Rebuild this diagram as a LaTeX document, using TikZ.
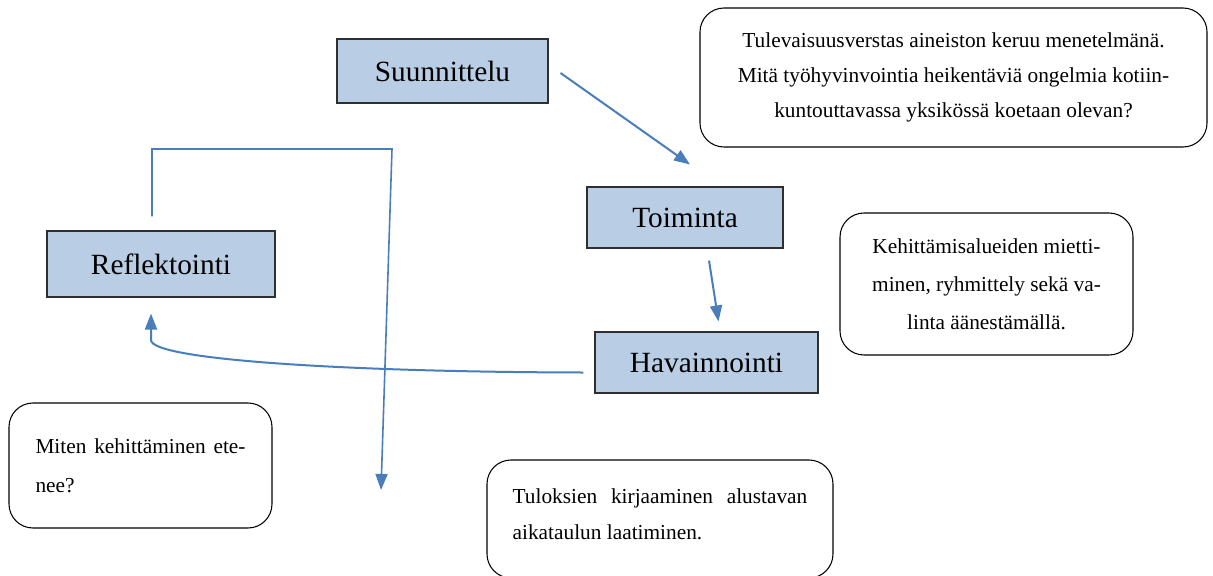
\documentclass[tikz,border=0pt]{standalone}
\usepackage{fontspec}
\setmainfont{Liberation Serif}
\usetikzlibrary{arrows.meta,calc}
\definecolor{boxfill}{HTML}{B9CDE5}
\definecolor{boxline}{HTML}{2F2F2F}
\definecolor{arrblue}{HTML}{4A7EBB}
\tikzset{
  stagebox/.style={draw=boxline, line width=0.8pt, fill=boxfill, inner sep=0pt,
    font=\fontsize{22}{26}\selectfont},
  notebox/.style={draw=black, line width=0.8pt, rounded corners=18pt, inner sep=0pt,
    font=\fontsize{16}{26}\selectfont},
  arr/.style={draw=arrblue, line width=1.5pt, -{Triangle[length=12pt,width=9pt]}},
  loopline/.style={draw=arrblue, line width=1.2pt, -{Triangle[length=12pt,width=9pt]}}
}
\begin{document}
\begin{tikzpicture}[x=0.75pt,y=-0.75pt]
\clip (0,0) rectangle (1213,575);
\fill[white] (0,0) rectangle (1213,575);
% stage boxes
\node[stagebox, minimum width=158.25pt, minimum height=48pt] (suun) at (442.5,71) {Suunnittelu};
\node[stagebox, minimum width=147pt, minimum height=45.75pt] (toim) at (685,217.5) {Toiminta};
\node[stagebox, minimum width=171pt, minimum height=49.5pt] (refl) at (161,264) {Reflektointi};
\node[stagebox, minimum width=167.25pt, minimum height=45.75pt] (hav) at (706.5,362.5) {Havainnointi};
% note boxes
\node[notebox, minimum width=380.25pt, minimum height=104.25pt, align=center] (n1) at (953.5,77.5)
  {Tulevaisuusverstas aineiston keruu menetelmänä.\\Mitä työhyvinvointia heikentäviä ongelmia kotiin-\\kuntouttavassa yksikössä koetaan olevan?};
\node[notebox, minimum width=219.75pt, minimum height=106.5pt, align=center, font=\fontsize{16}{28.5}\selectfont] (n2) at (986.5,284)
  {Kehittämisalueiden mietti-\\minen, ryhmittely sekä va-\\linta äänestämällä.};
\node[notebox, minimum width=197.25pt, minimum height=93.75pt, align=left, font=\fontsize{16}{29}\selectfont] (n3) at (140.5,465.5)
  {\makebox[157.5pt][s]{Miten kehittäminen ete-}\\nee?};
\node[notebox, minimum width=259.5pt, minimum height=88.5pt, align=left, font=\fontsize{16}{27}\selectfont] (n4) at (660,519)
  {\makebox[221pt][s]{Tuloksien kirjaaminen alustavan}\\aikataulun laatiminen.\\[-20pt]\mbox{}};
% connectors
\coordinate (loopend) at (381,490);
\draw[arr] ($(suun.east)+(12,2)$) -- ($(toim.north)+(5,-22)$);
\draw[arr] ($(toim.south)+(24,12)$) -- ($(hav.north)+(12,-10)$);
\draw[arr] ($(hav.west)+(-11,10)$) .. controls (350,372) and (151,360) .. (151,340) -- ($(refl.south)+(-10,16)$);
\draw[loopline] ($(refl.north)+(-9,-14)$) |- (392,149) -- (loopend);
\end{tikzpicture}
\end{document}
